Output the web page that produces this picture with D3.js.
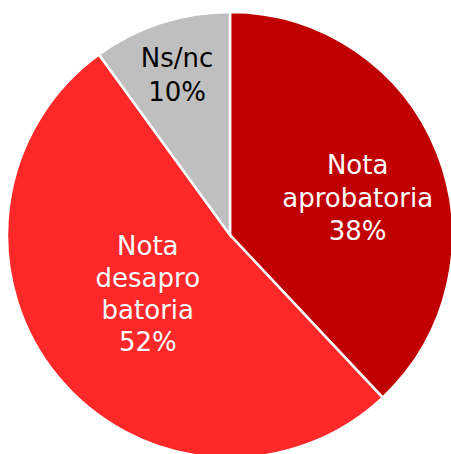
<!DOCTYPE html>
<html>
<head>
<meta charset="utf-8">
<title>Nota</title>
<script src="https://cdnjs.cloudflare.com/ajax/libs/d3/7.8.5/d3.min.js"></script>
<style>
  body { margin: 0; background: #fff; }
  svg { display: block; }
  text { font-family: "DejaVu Sans", Verdana, sans-serif; font-size: 26px; }
</style>
</head>
<body>
<svg width="451" height="454"></svg>
<script>
// datos
var categorias = ["Nota aprobatoria", "Nota desaprobatoria", "Ns/nc"];
var valores = [38, 52, 10];
var etiquetas = [["Nota", "aprobatoria", "38%"], ["Nota", "desapro", "batoria", "52%"], ["Ns/nc", "10%"]];
var colores = ["#C00000", "#FF2828", "#BFBFBF"];
var colorTexto = ["#ffffff", "#ffffff", "#000000"];

var cx = 230, cy = 235, r = 223;
// radio de cada etiqueta y ajustes
var radioEtiqueta = [133, 95, 168];
var ajusteX = [4, -9, -1];
var ajusteY = [12, -2, 0];
var altoLinea = [33, 32, 34];

var svg = d3.select("svg");
var g = svg.append("g").attr("transform", "translate(" + cx + "," + cy + ")");

var pie = d3.pie().sort(null).value(function(d) { return d; });
var arcos = pie(valores);
var arc = d3.arc().innerRadius(0).outerRadius(r);

g.selectAll("path").data(arcos).enter().append("path")
  .attr("d", arc)
  .attr("fill", function(d, i) { return colores[i]; })
  .attr("stroke", "#fff")
  .attr("stroke-width", 2.5);

g.selectAll("text.lab").data(arcos).enter().append("text")
  .attr("class", "lab")
  .attr("text-anchor", "middle")
  .attr("fill", function(d, i) { return colorTexto[i]; })
  .each(function(d, i) {
    var c = d3.arc().innerRadius(radioEtiqueta[i]).outerRadius(radioEtiqueta[i]).centroid(d);
    var lines = etiquetas[i];
    var lh = altoLinea[i];
    var x = c[0] + ajusteX[i];
    var y0 = c[1] + ajusteY[i] - (lines.length - 1) * lh / 2 + 9;
    var t = d3.select(this);
    lines.forEach(function(l, k) {
      t.append("tspan").attr("x", x).attr("y", y0 + k * lh).text(l);
    });
  });
</script>
</body>
</html>
